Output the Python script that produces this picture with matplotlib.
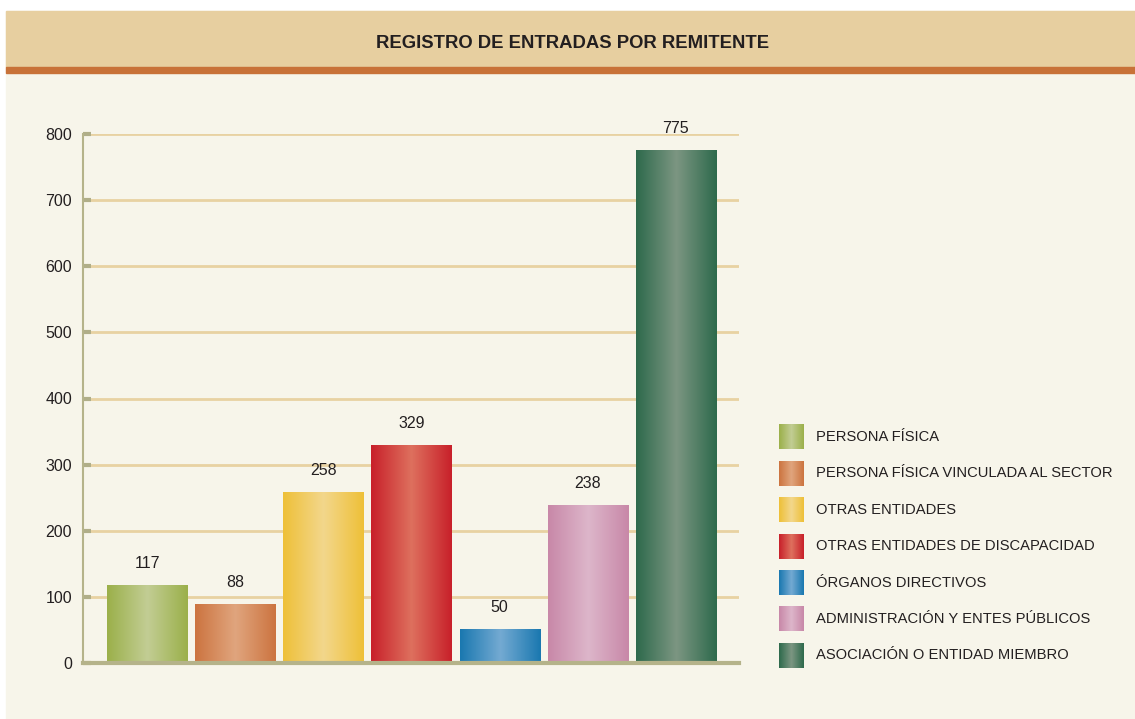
import numpy as np
import matplotlib
matplotlib.use("Agg")
import matplotlib.pyplot as plt
from matplotlib.colors import LinearSegmentedColormap
from matplotlib.patches import Rectangle

plt.rcParams['font.family'] = ['Liberation Sans', 'DejaVu Sans']

# data
categories = ['PERSONA FÍSICA', 'PERSONA FÍSICA VINCULADA AL SECTOR', 'OTRAS ENTIDADES',
              'OTRAS ENTIDADES DE DISCAPACIDAD', 'ÓRGANOS DIRECTIVOS',
              'ADMINISTRACIÓN Y ENTES PÚBLICOS', 'ASOCIACIÓN O ENTIDAD MIEMBRO']
values = [117, 88, 258, 329, 50, 238, 775]
y_ticks = [0, 100, 200, 300, 400, 500, 600, 700, 800]
edge_colors = ['#9BB04A', '#CC7440', '#EEC038', '#C8202A', '#1A78B0', '#C888A8', '#2E6A4C']
mid_colors = ['#C2CD94', '#E0A57E', '#F3D78C', '#DE705E', '#74AAD2', '#DDB6CA', '#7C9682']

W, H = 1135, 719
fig = plt.figure(figsize=(W / 100, H / 100), dpi=100)
fig.patch.set_facecolor('white')

def fx(px):
    return px / W

def fy(py):
    return 1 - py / H

# background panel, header and stripe
fig.patches.append(Rectangle((fx(6), 0), 1, fy(11), transform=fig.transFigure,
                             color='#F7F5EA', zorder=0))
fig.patches.append(Rectangle((fx(6), fy(67)), 1, fy(11) - fy(67), transform=fig.transFigure,
                             color='#E7CFA0', zorder=1))
fig.patches.append(Rectangle((fx(6), fy(73)), 1, fy(67) - fy(73), transform=fig.transFigure,
                             color='#C87238', zorder=1))
fig.text(fx(573), fy(43), 'REGISTRO DE ENTRADAS POR REMITENTE', ha='center', va='center',
         fontsize=13.3, fontweight='bold', color='#231F20', zorder=3)

# main axes
ax = fig.add_axes([fx(83), fy(663), fx(739) - fx(83), fy(134) - fy(663)])
ax.set_zorder(5)
ax.set_facecolor('none')
x = np.arange(len(values))
width = 80 / 88

for i, v in enumerate(values):
    cmap = LinearSegmentedColormap.from_list('g', [edge_colors[i], mid_colors[i], edge_colors[i]])
    grad = np.linspace(0, 1, 200).reshape(1, -1)
    x0 = x[i] - width / 2
    ax.imshow(grad, cmap=cmap, aspect='auto', extent=(x0, x0 + width, 0, v), zorder=3)
    ax.text(x[i], v + 22, str(v), ha='center', va='bottom', fontsize=11.5, color='#231F20')

ax.set_xlim(-0.727, 6.716)
ax.set_ylim(0, 800)
ax.set_yticks(y_ticks)
ax.set_yticklabels([str(t) for t in y_ticks])
ax.set_xticks([])
for t in y_ticks[1:]:
    ax.axhline(t, color='#E8D2A2', lw=2, zorder=1)
ax.tick_params(axis='y', direction='in', length=6, width=3, color='#B0AE88',
               labelsize=11.5, labelcolor='#231F20', pad=8)
for s in ['top', 'right']:
    ax.spines[s].set_visible(False)
ax.spines['left'].set_color('#B5B38A')
ax.spines['left'].set_linewidth(1.5)
ax.spines['bottom'].set_color('#B5B38A')
ax.spines['bottom'].set_linewidth(3)
ax.spines['bottom'].set_zorder(4)

# legend with gradient swatches
lax = fig.add_axes([0, 0, 1, 1])
lax.set_zorder(5)
lax.axis('off')
for i, name in enumerate(categories):
    yc = 437 + i * 36.4
    cmap = LinearSegmentedColormap.from_list('g', [edge_colors[i], mid_colors[i], edge_colors[i]])
    grad = np.linspace(0, 1, 100).reshape(1, -1)
    lax.imshow(grad, cmap=cmap, aspect='auto', extent=(779, 804, yc + 12.5, yc - 12.5))
    lax.text(816, yc, name, ha='left', va='center', fontsize=10.6, color='#231F20')
lax.set_xlim(0, W)
lax.set_ylim(H, 0)

fig.savefig('out.png', dpi=100, facecolor=fig.get_facecolor())
